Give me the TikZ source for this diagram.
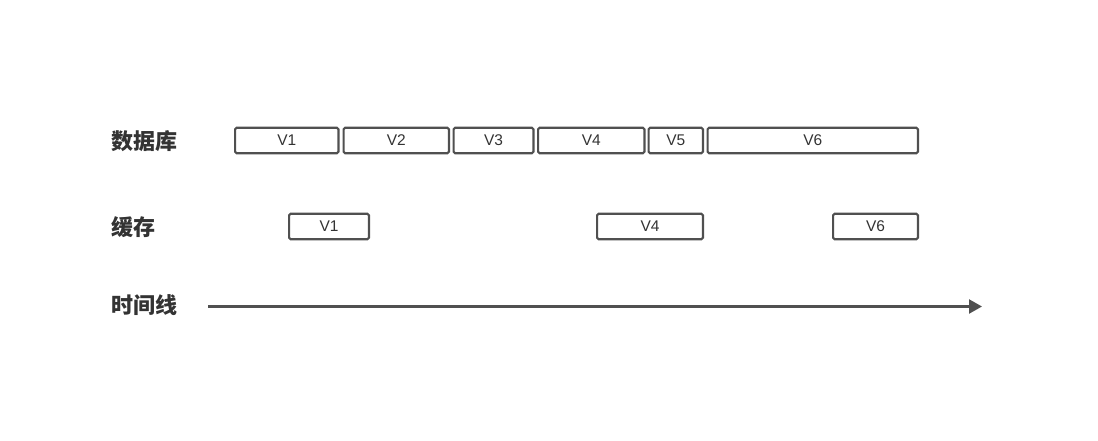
\documentclass[tikz,border=0pt]{standalone}
\usepackage{fontspec}
\setmainfont{Liberation Sans}
\newfontfamily\cjk{Noto Sans CJK SC}
\usetikzlibrary{arrows.meta}
\definecolor{boxline}{HTML}{505050}
\definecolor{txt}{HTML}{333333}
\begin{document}
\begin{tikzpicture}[x=1pt,y=-1pt,
  vbox/.style={draw=boxline,line width=2.2pt,rounded corners=1.5pt,fill=white,text=txt,
    font=\fontsize{15.5}{18}\selectfont,inner sep=0pt,minimum height=25.5pt},
  rowlabel/.style={anchor=west,inner sep=0pt,text=txt,font=\cjk\bfseries\fontsize{22}{24}\selectfont}]
\useasboundingbox[fill=white] (0,0) rectangle (1098,440);
% database row
\node (db) [rowlabel] at (111,141) {数据库};
\foreach \n/\a/\b/\t in {d1/234/339.5/V1,d2/342.5/450/V2,d3/452.5/534.5/V3,d4/537/645.5/V4,d5/647.5/704/V5,d6/706.5/919/V6}{
  \pgfmathsetmacro\w{\b-\a-2.2}
  \pgfmathsetmacro\c{(\a+\b)/2}
  \node[vbox,minimum width=\w pt] (\n) at (\c,140.5) {\t};
}
% cache row
\node (cache) [rowlabel] at (111,227) {缓存};
\foreach \n/\a/\b/\t in {c1/288/370/V1,c4/596/704/V4,c6/832/919/V6}{
  \pgfmathsetmacro\w{\b-\a-2.2}
  \pgfmathsetmacro\c{(\a+\b)/2}
  \node[vbox,minimum width=\w pt] (\n) at (\c,226.5) {\t};
}
% time line
\node (tl) [rowlabel] at (111,305) {时间线};
\coordinate (ts) at (208,306.5);
\coordinate (te) at (982,306.5);
\draw[draw=boxline,line width=2.2pt,-{Triangle[length=13pt,width=14pt]}] (ts) -- (te);
\end{tikzpicture}
\end{document}
